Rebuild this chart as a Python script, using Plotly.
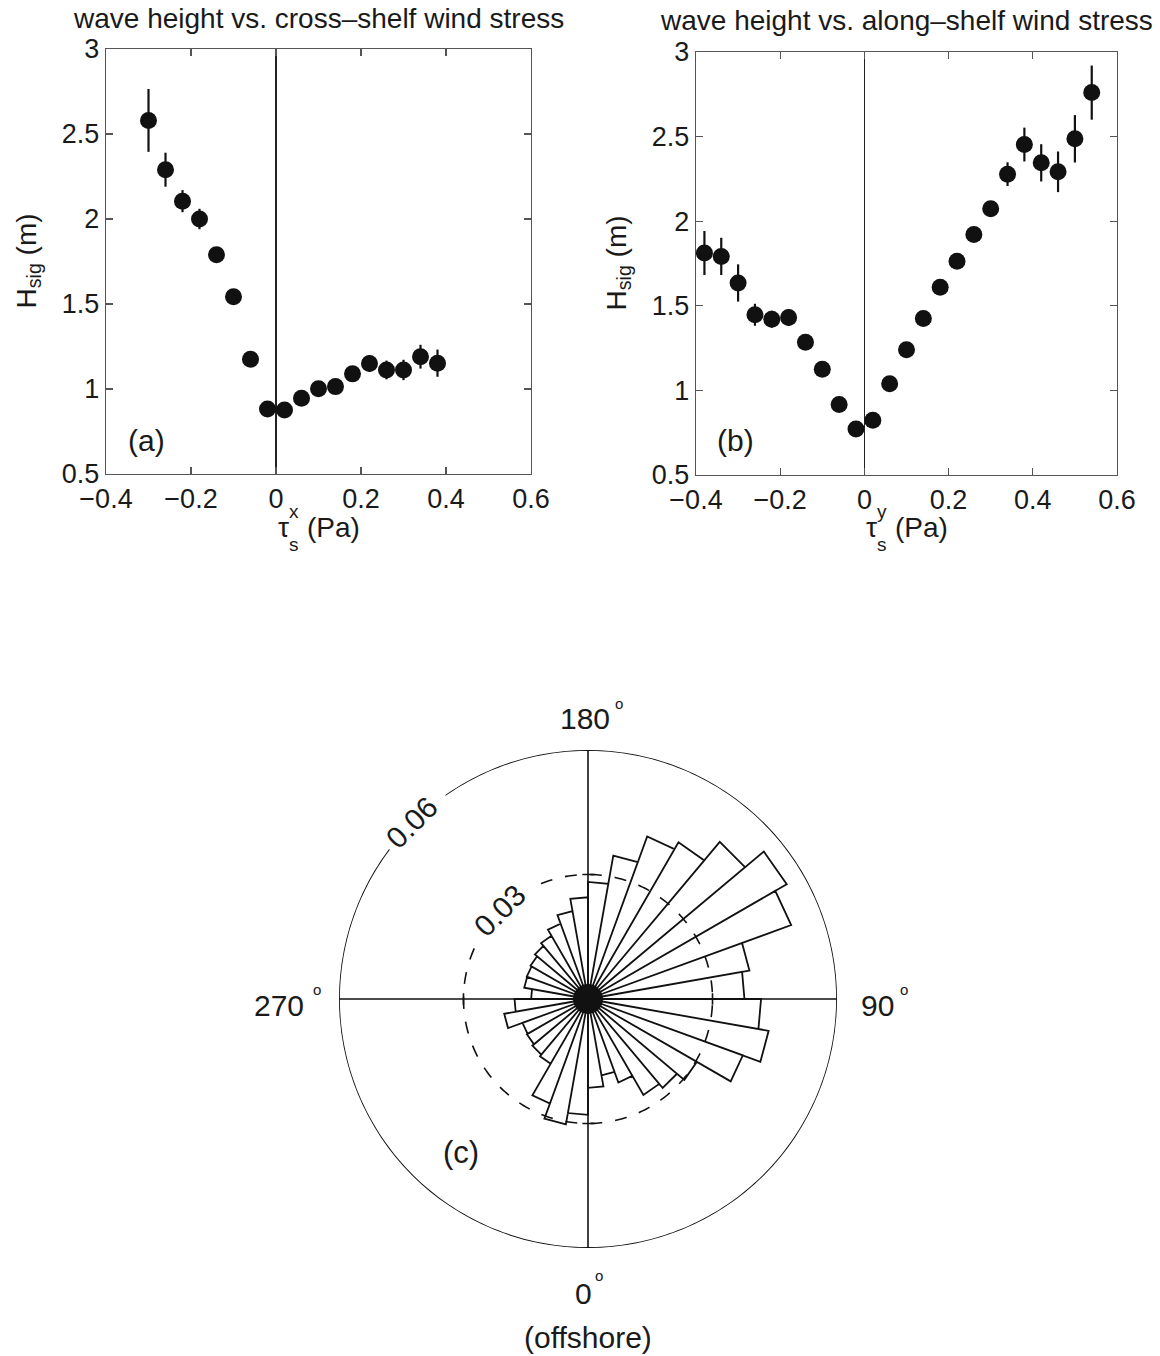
import numpy as np
import plotly.graph_objects as go

W, H = 1160, 1356
FONT = "Liberation Sans, Arial, Helvetica, sans-serif"
INK = "#1a1a1a"

# ---------------- data ----------------
# panel (a): wave height vs cross-shelf wind stress
tau_x = [-0.30, -0.26, -0.22, -0.18, -0.14, -0.10, -0.06, -0.02, 0.02, 0.06,
         0.10, 0.14, 0.18, 0.22, 0.26, 0.30, 0.34, 0.38]
hsig_a = [2.58, 2.29, 2.105, 2.00, 1.79, 1.542, 1.175, 0.883, 0.877, 0.945,
          1.002, 1.014, 1.089, 1.15, 1.112, 1.112, 1.19, 1.152]
err_a = [0.185, 0.10, 0.065, 0.06, 0.02, 0.02, 0.02, 0.02, 0.02, 0.02,
         0.02, 0.02, 0.03, 0.05, 0.055, 0.06, 0.07, 0.08]

# panel (b): wave height vs along-shelf wind stress
tau_y = [-0.38, -0.34, -0.30, -0.26, -0.22, -0.18, -0.14, -0.10, -0.06, -0.02,
         0.02, 0.06, 0.10, 0.14, 0.18, 0.22, 0.26, 0.30, 0.34, 0.38,
         0.42, 0.46, 0.50, 0.54]
hsig_b = [1.812, 1.792, 1.635, 1.447, 1.421, 1.431, 1.285, 1.125, 0.916, 0.772,
          0.824, 1.039, 1.24, 1.425, 1.609, 1.763, 1.921, 2.073, 2.278, 2.453,
          2.345, 2.292, 2.487, 2.76]
err_b = [0.13, 0.11, 0.11, 0.065, 0.05, 0.05, 0.02, 0.02, 0.02, 0.02,
         0.02, 0.02, 0.02, 0.02, 0.02, 0.02, 0.02, 0.02, 0.07, 0.10,
         0.11, 0.12, 0.14, 0.16]

# panel (c): rose of wave direction (fraction per 10-degree bin)
bin_start = [0, 10, 20, 30, 40, 50, 60, 70, 80,
             90, 100, 110, 120, 130, 140, 150, 160, 170,
             180, 190, 200, 210, 220, 230, 240, 250, 260,
             270, 280, 290, 300, 310, 320, 330, 340, 350]
bin_width = 10
rose_frac = [0.0214, 0.0187, 0.0214, 0.0267, 0.0280, 0.0303, 0.0397, 0.0442, 0.0417,
             0.0377, 0.0395, 0.0521, 0.0553, 0.0494, 0.0436, 0.0417, 0.0351, 0.0282,
             0.0245, 0.0215, 0.0193, 0.0176, 0.0167, 0.0160, 0.0157, 0.0156, 0.0137,
             0.0177, 0.0205, 0.0168, 0.0170, 0.0175, 0.0180, 0.0268, 0.0307, 0.0279]
r_rings = [0.03, 0.06]
ring_labels = ["0.03", "0.06"]

xticks = [-0.4, -0.2, 0, 0.2, 0.4, 0.6]
xticktext = ["\u22120.4", "\u22120.2", "0", "0.2", "0.4", "0.6"]
yticks = [0.5, 1, 1.5, 2, 2.5, 3]
yticktext = ["0.5", "1", "1.5", "2", "2.5", "3"]

# ---------------- layout geometry (pixels) ----------------
A = dict(x0=106, x1=531, y0=49, y1=474)
B = dict(x0=696, x1=1117, y0=52, y1=475)
cx, cy, R = 588, 999, 249


def px(x):
    return x / W


def py(y):
    return 1 - y / H


fig = go.Figure()

marker = dict(size=17, color="#111111")
for xs, ys, es, xa, ya in [(tau_x, hsig_a, err_a, "x", "y"),
                           (tau_y, hsig_b, err_b, "x2", "y2")]:
    fig.add_trace(go.Scatter(
        x=xs, y=ys, mode="markers", marker=marker, xaxis=xa, yaxis=ya,
        error_y=dict(type="data", array=es, color="#111111", thickness=2.2, width=0),
        showlegend=False, cliponaxis=False))

axis_common = dict(showline=True, mirror="ticks", linecolor="#555555", linewidth=1.2,
                   ticks="inside", ticklen=7, tickcolor="#555555", tickwidth=1.2,
                   showgrid=False, automargin=False,
                   tickfont=dict(family=FONT, size=27, color=INK))

for ax_x, ax_y, G, anchor_x, anchor_y in [("xaxis", "yaxis", A, "y", "x"),
                                          ("xaxis2", "yaxis2", B, "y2", "x2")]:
    fig.update_layout(**{
        ax_x: dict(axis_common, domain=[px(G["x0"]), px(G["x1"])], range=[-0.4, 0.6],
                   tickvals=xticks, ticktext=xticktext, zeroline=True,
                   zerolinecolor="#222222", zerolinewidth=1.6, anchor=anchor_x,
                   fixedrange=True),
        ax_y: dict(axis_common, domain=[py(G["y1"]), py(G["y0"])], range=[0.5, 3],
                   tickvals=yticks, ticktext=yticktext, zeroline=False,
                   anchor=anchor_y, fixedrange=True),
    })

# ---------------- rose (panel c) ----------------
th, rr = [], []
for a, f in zip(bin_start, rose_frac):
    th += [a, a, a + bin_width, a + bin_width]
    rr += [0, f, f, 0]
fig.add_trace(go.Scatterpolar(theta=th, r=rr, mode="lines",
                              line=dict(color="#111111", width=1.8),
                              showlegend=False, cliponaxis=False))

# outer ring (solid, gap for its label) and inner ring (dashed, gap for its label)
outer = np.arange(233, 360 + 215 + 0.5, 1.0)
fig.add_trace(go.Scatterpolar(theta=outer, r=[r_rings[1]] * len(outer), mode="lines",
                              line=dict(color="#111111", width=1.8),
                              showlegend=False, cliponaxis=False))
inner = np.arange(246, 360 + 207 + 0.5, 1.0)
fig.add_trace(go.Scatterpolar(theta=inner, r=[r_rings[0]] * len(inner), mode="lines",
                              line=dict(color="#111111", width=1.6, dash="12px,13px"),
                              showlegend=False, cliponaxis=False))

# cross lines through the centre
ext = r_rings[1] * 1.035
for a in [0, 90]:
    fig.add_trace(go.Scatterpolar(theta=[a, a, a + 180], r=[ext, 0, ext], mode="lines",
                                  line=dict(color="#111111", width=1.6),
                                  showlegend=False, cliponaxis=False))
# small ticks on the inner ring where it meets the cross lines
d = 2.6
for a in [0, 90, 180, 270]:
    rt = r_rings[0] / np.cos(np.radians(d))
    fig.add_trace(go.Scatterpolar(theta=[a - d, a + d], r=[rt, rt], mode="lines",
                                  line=dict(color="#111111", width=1.6),
                                  showlegend=False, cliponaxis=False))
# dark hub
fig.add_trace(go.Scatterpolar(theta=[0], r=[0], mode="markers",
                              marker=dict(size=30, color="#111111"),
                              showlegend=False, cliponaxis=False))

fig.update_layout(polar=dict(
    domain=dict(x=[px(cx - R), px(cx + R)], y=[py(cy + R), py(cy - R)]),
    bgcolor="white",
    radialaxis=dict(range=[0, r_rings[1]], visible=False),
    angularaxis=dict(rotation=270, direction="counterclockwise", showline=False,
                     showgrid=False, showticklabels=False, ticks=""),
))

# ---------------- text ----------------
ann = []


def T(text, x, y, size=24, angle=0, xanchor="center", yanchor="middle"):
    ann.append(dict(text=text, x=px(x), y=py(y), xref="paper", yref="paper",
                    showarrow=False, textangle=angle, xanchor=xanchor, yanchor=yanchor,
                    font=dict(family=FONT, size=size, color=INK)))


# titles
T("wave height vs. cross\u2013shelf wind stress", (A["x0"] + A["x1"]) / 2, 18, size=28)
T("wave height vs. along\u2013shelf wind stress", (B["x0"] + B["x1"]) / 2, 21, size=28)

# y-axis titles
for G in (A, B):
    T("H<sub>sig</sub> (m)", G["x0"] - 78, (G["y0"] + G["y1"]) / 2, size=28, angle=-90)

# x-axis titles: tau with stacked super/subscript
for G, sup in ((A, "x"), (B, "y")):
    c = (G["x0"] + G["x1"]) / 2
    T("\u03c4", c - 35, 527, size=28)
    T(sup, c - 25, 511, size=19)
    T("s", c - 25, 544, size=19)
    T("(Pa)", c + 15, 527, size=28)

# panel letters
T("(a)", 146, 440, size=30)
T("(b)", 735, 440, size=30)
T("(c)", 461, 1152, size=31)

# polar labels
T("180", cx - 3, 718, size=30)
T("o", cx + 31, 703, size=15)
T("90", 877, 1005, size=30)
T("o", 904, 989, size=15)
T("270", 279, 1005, size=30)
T("o", 317, 989, size=15)
T("0", cx - 5, 1293, size=30)
T("o", cx + 11, 1275, size=15)
T("(offshore)", cx, 1337, size=30)

# ring labels along the rings, at 225 degrees
for rv, lab in zip(r_rings, ring_labels):
    rp = R * rv / r_rings[1]
    ang = np.radians(225)
    x = cx + rp * np.sin(ang)
    y = cy + rp * np.cos(ang)
    T(lab, x, y, size=30, angle=-45)

fig.update_layout(template="none", width=W, height=H,
                  margin=dict(l=0, r=0, t=0, b=0, pad=0, autoexpand=False),
                  paper_bgcolor="white", plot_bgcolor="white",
                  showlegend=False, annotations=ann)

fig.write_html("out.html",
               config={"displayModeBar": False, "staticPlot": True},
               post_script="document.body.style.margin='0';"
                           "document.body.style.padding='0';"
                           "document.body.style.overflow='hidden';")
